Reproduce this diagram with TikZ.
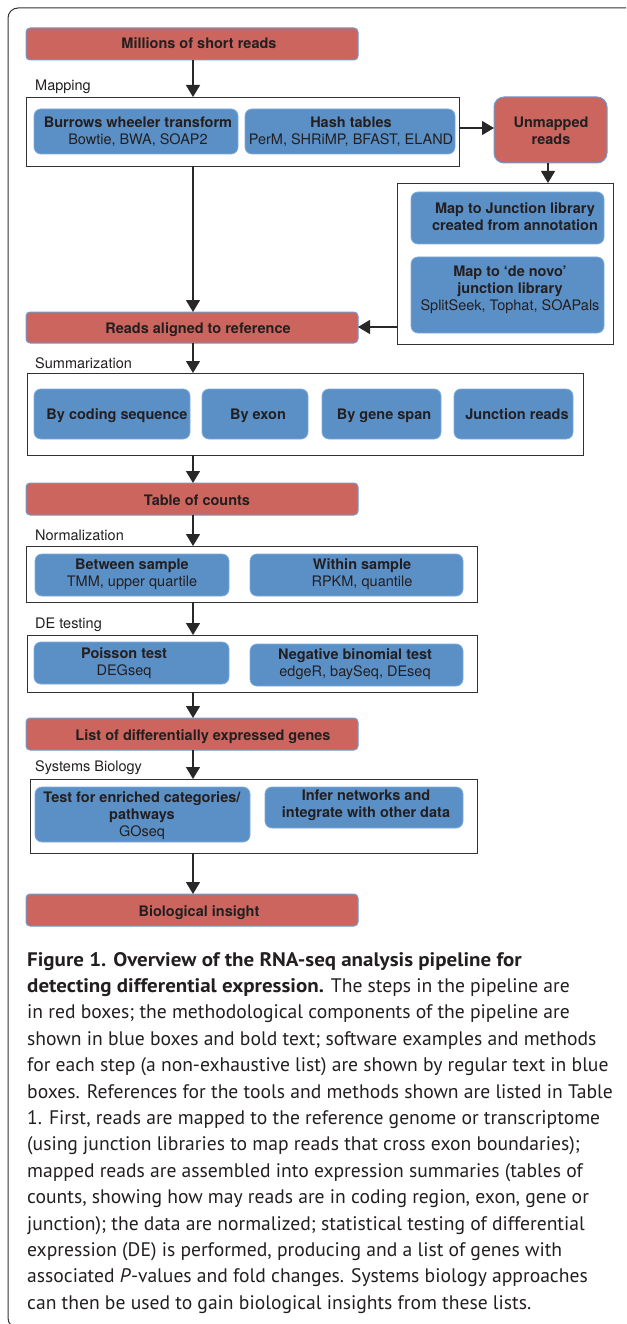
\documentclass[tikz,border=0pt]{standalone}
\usepackage{fontspec}
\setmainfont{TeX Gyre Heros}
\newfontfamily\capfont{PT Sans}[BoldFeatures={FakeStretch=1.07}]
\usetikzlibrary{arrows.meta}
\definecolor{redf}{RGB}{205,101,95}
\definecolor{redb}{RGB}{110,155,210}
\definecolor{bluef}{RGB}{91,144,199}
\definecolor{blueb}{RGB}{125,170,220}
\definecolor{ink}{RGB}{35,31,32}
\definecolor{lin}{RGB}{40,40,40}
\definecolor{grpl}{RGB}{50,50,50}
\newcommand\bx[6]{\node[#2, minimum width=#5pt-#3pt, minimum height=#6pt-#4pt] (#1) at ({(#3+#5)/2},{(#4+#6)/2}) {};}
\begin{document}
\begin{tikzpicture}[x=1pt,y=-1pt,
  redbox/.style={draw=redb, fill=redf, line width=1pt, rounded corners=4pt, inner sep=0pt, outer sep=0pt},
  unbox/.style={redbox, rounded corners=10pt},
  bluebox/.style={draw=blueb, fill=bluef, line width=0.8pt, rounded corners=7pt, inner sep=0pt, outer sep=0pt},
  grp/.style={draw=grpl, fill=white, line width=0.9pt, inner sep=0pt, outer sep=0pt},
  txt/.style={text=ink, font=\fontsize{14.5}{17}\selectfont, inner sep=0pt, align=center},
  txa/.style={text=ink, font=\fontsize{14.5}{17}\selectfont, inner sep=0pt, text height=10pt, text depth=0pt},
  lbl/.style={text=ink, font=\fontsize{14.5}{17}\selectfont, inner sep=0pt, anchor=west},
  arr/.style={draw=lin, line width=1.2pt, -{Triangle[width=14pt,length=12pt]}},
  captxt/.style={text=ink, font=\capfont\fontsize{19.6}{24}\selectfont, inner sep=0pt, anchor=base west},
]
\useasboundingbox (0,0) rectangle (626,1324);
\clip (0,0) rectangle (626,1324);
\draw[grpl, line width=1pt, rounded corners=10pt] (8,8) rectangle (660,1328);

% group boxes
\bx{gMap}{grp}{26}{97}{459}{166}
\bx{gJun}{grp}{397}{183}{613}{344}
\bx{gSum}{grp}{27}{373}{583}{455}
\bx{gNor}{grp}{26}{546}{477}{602}
\bx{gDE}{grp}{27}{635}{477}{692}
\bx{gSys}{grp}{30}{779}{477}{853}

% blue boxes
\bx{bBwt}{bluebox}{34}{109}{238}{154}
\bx{bHash}{bluebox}{245}{109}{455}{154}
\bx{bJa}{bluebox}{411}{192}{604}{244}
\bx{bJb}{bluebox}{411}{257}{604}{333}
\bx{bS1}{bluebox}{34}{389}{190}{439}
\bx{bS2}{bluebox}{202}{389}{308}{439}
\bx{bS3}{bluebox}{322}{389}{441}{439}
\bx{bS4}{bluebox}{454}{389}{573}{439}
\bx{bN1}{bluebox}{35}{554}{229}{596}
\bx{bN2}{bluebox}{250}{554}{463}{596}
\bx{bD1}{bluebox}{34}{642}{229}{684}
\bx{bD2}{bluebox}{250}{644}{463}{686}
\bx{bY1}{bluebox}{35}{787}{250}{842}
\bx{bY2}{bluebox}{265}{787}{463}{828}

% red boxes
\bx{rRead}{redbox}{26}{28}{358}{60}
\bx{rAlig}{redbox}{26}{312}{358}{343}
\bx{rTab}{redbox}{26}{483}{358}{515}
\bx{rList}{redbox}{26}{718}{358}{750}
\bx{rBio}{redbox}{26}{894}{358}{926}
\bx{rUnm}{unbox}{494}{97}{607}{163}

% texts
\node[txa] (tRead) at (199,44) {\bfseries Millions of short reads};
\node[txa] (tAlig) at (198,328) {\bfseries Reads aligned to reference};
\node[txa] (tTab) at (197,500) {\bfseries Table of counts};
\node[txa] (tList) at (203,735) {\bfseries List of differentially expressed genes};
\node[txa] (tBio) at (199,911) {\bfseries Biological insight};
\node[txt] (tUnm) at (551,131) {\bfseries Unmapped\\\bfseries reads};
\node[txt] (tBwt) at (138,131.5) {\textbf{Burrows wheeler transform}\\Bowtie, BWA, SOAP2};
\node[txt] (tHash) at (351,131.5) {\textbf{Hash tables}\\PerM, SHRiMP, BFAST, ELAND};
\node[txt] (tJa) at (515,217) {\bfseries Map to Junction library\\\bfseries created from annotation};
\node[txt] (tJb) at (510,290) {\textbf{Map to ‘de novo’}\\\textbf{junction library}\\SplitSeek, Tophat, SOAPals};
\node[txa] (tS1) at (117,414) {\bfseries By coding sequence};
\node[txa] (tS2) at (258,414) {\bfseries By exon};
\node[txa] (tS3) at (384,414) {\bfseries By gene span};
\node[txa] (tS4) at (517,414) {\bfseries Junction reads};
\node[txt] (tN1) at (132,574) {\textbf{Between sample}\\TMM, upper quartile};
\node[txt] (tN2) at (362,574) {\textbf{Within sample}\\RPKM, quantile};
\node[txt] (tD1) at (124,663.5) {\textbf{Poisson test}\\DEGseq};
\node[txt] (tD2) at (355,664) {\textbf{Negative binomial test}\\edgeR, baySeq, DEseq};
\node[txt] (tY1) at (142,816) {\textbf{Test for enriched categories/}\\\textbf{pathways}\\GOseq};
\node[txt] (tY2) at (366,805.5) {\bfseries Infer networks and\\\bfseries integrate with other data};

% labels
\node[lbl] (lMap) at (35,87) {Mapping};
\node[lbl] (lSum) at (35,363) {Summarization};
\node[lbl] (lNor) at (35,535) {Normalization};
\node[lbl] (lDE) at (35,625) {DE testing};
\node[lbl] (lSys) at (35,768) {Systems Biology};

% connectors
\coordinate (ax) at (193,0);
\coordinate (mY) at (0,128);
\coordinate (uX) at (548,0);
\coordinate (jY) at (0,327);
\draw[arr] (rRead.south -| ax) -- (gMap.north -| ax);
\draw[arr] (gMap.south -| ax) -- (rAlig.north -| ax);
\draw[arr] (gMap.east |- mY) -- (rUnm.west |- mY);
\draw[arr] (rUnm.south -| uX) -- (gJun.north -| uX);
\draw[arr] (gJun.west |- jY) -- (rAlig.east |- jY);
\draw[arr] (rAlig.south -| ax) -- (gSum.north -| ax);
\draw[arr] (gSum.south -| ax) -- (rTab.north -| ax);
\draw[arr] (rTab.south -| ax) -- (gNor.north -| ax);
\draw[arr] (gNor.south -| ax) -- (gDE.north -| ax);
\draw[arr] (gDE.south -| ax) -- (rList.north -| ax);
\draw[arr] (rList.south -| ax) -- (gSys.north -| ax);
\draw[arr] (gSys.south -| ax) -- (rBio.north -| ax);

% caption
\node[captxt] (c1) at (27,966) {\bfseries Figure 1. Overview of the RNA-seq analysis pipeline for};
\node[captxt] (c2) at (27,992.4) {\textbf{detecting differential expression.} The steps in the pipeline are};
\node[captxt] (c3) at (27,1018.8) {in red boxes; the methodological components of the pipeline are};
\node[captxt] (c4) at (27,1045.2) {shown in blue boxes and bold text; software examples and methods};
\node[captxt] (c5) at (27,1071.6) {for each step (a non-exhaustive list) are shown by regular text in blue};
\node[captxt] (c6) at (27,1098) {boxes. References for the tools and methods shown are listed in Table};
\node[captxt] (c7) at (27,1124.4) {1. First, reads are mapped to the reference genome or transcriptome};
\node[captxt] (c8) at (27,1150.8) {(using junction libraries to map reads that cross exon boundaries);};
\node[captxt] (c9) at (27,1177.2) {mapped reads are assembled into expression summaries (tables of};
\node[captxt] (c10) at (27,1203.6) {counts, showing how may reads are in coding region, exon, gene or};
\node[captxt] (c11) at (27,1230) {junction); the data are normalized; statistical testing of differential};
\node[captxt] (c12) at (27,1256.4) {expression (DE) is performed, producing and a list of genes with};
\node[captxt] (c13) at (27,1282.8) {associated \textit{P}-values and fold changes. Systems biology approaches};
\node[captxt] (c14) at (27,1309.2) {can then be used to gain biological insights from these lists.};
\end{tikzpicture}
\end{document}
